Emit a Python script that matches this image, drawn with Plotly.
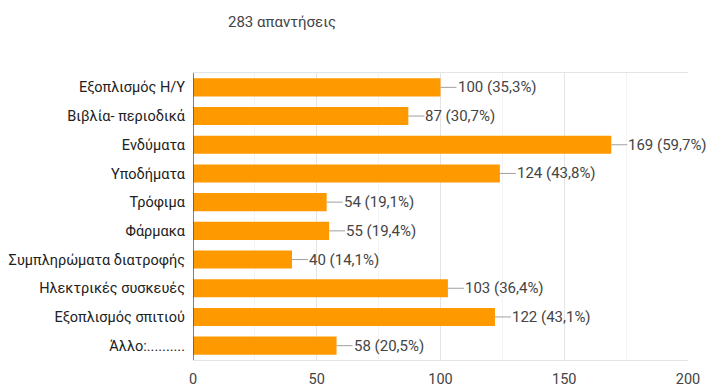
import plotly.graph_objects as go

categories = ["Εξοπλισμός Η/Υ", "Βιβλία- περιοδικά", "Ενδύματα", "Υποδήματα", "Τρόφιμα",
              "Φάρμακα", "Συμπληρώματα διατροφής", "Ηλεκτρικές συσκευές", "Εξοπλισμός σπιτιού", "Άλλο:.........."]
counts = [100, 87, 169, 124, 54, 55, 40, 103, 122, 58]
percents = ["35,3%", "30,7%", "59,7%", "43,8%", "19,1%", "19,4%", "14,1%", "36,4%", "43,1%", "20,5%"]
x_ticks = [0, 50, 100, 150, 200]
title_text = "283 απαντήσεις"

FONT = "Roboto, Arial, sans-serif"

fig = go.Figure()
fig.add_trace(go.Bar(
    y=categories, x=counts, orientation="h",
    marker=dict(color="#FF9900", line=dict(width=0)),
    hoverinfo="skip",
))

for c, v, p in zip(categories, counts, percents):
    fig.add_annotation(
        x=v, y=c, xref="x", yref="y",
        text=f"{v} ({p})",
        showarrow=True, arrowhead=0, arrowwidth=1, arrowcolor="#a0a0a0",
        ax=16, ay=0, xanchor="left", yanchor="middle",
        standoff=0, startstandoff=0,
        font=dict(family=FONT, size=15, color="#444444"),
        borderpad=0,
    )

fig.update_layout(
    width=710, height=387,
    margin=dict(l=193, r=22, t=73, b=27),
    paper_bgcolor="white", plot_bgcolor="white",
    bargap=0.37,
    showlegend=False,
    font=dict(family=FONT, size=14.5, color="#333333"),
    title=dict(text=title_text, x=228/710, xanchor="left", y=1 - 22/387, yanchor="middle",
               font=dict(family=FONT, size=15, color="#444444")),
)
fig.update_xaxes(
    range=[0, 200], tickvals=x_ticks, showgrid=True, gridcolor="#e4e4e4", gridwidth=1,
    minor=dict(dtick=25, showgrid=True, gridcolor="#f3f3f3"),
    zeroline=False, showline=True, linecolor="#e4e4e4", mirror=True,
    tickfont=dict(family=FONT, size=14.5, color="#444444"), ticks="", ticklabelstandoff=6,
    automargin=False, fixedrange=True,
)
fig.update_yaxes(
    categoryorder="array", categoryarray=categories, autorange="reversed",
    showgrid=False, zeroline=False, showline=False, ticks="",
    tickfont=dict(family=FONT, size=14.5, color="#222222"), ticklabelstandoff=7,
    automargin=False, fixedrange=True,
)
fig.add_vline(x=0, line=dict(color="#555555", width=1.5))

fig.write_html("out.html")
